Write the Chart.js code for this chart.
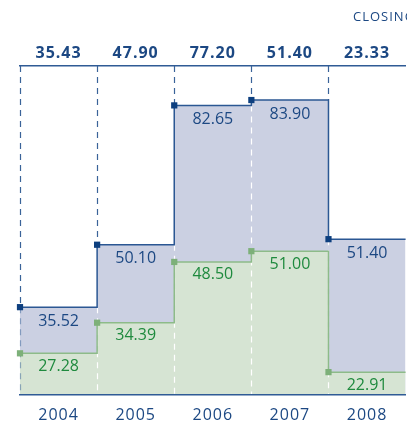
<!DOCTYPE html>
<html>
<head>
<meta charset="utf-8">
<script src="https://cdn.jsdelivr.net/npm/chart.js@4"></script>
<style>
  html, body { margin: 0; padding: 0; background: #fff; overflow: hidden; }
  canvas { display: block; }
</style>
</head>
<body>
<canvas id="priceChart" width="410" height="423"></canvas>
<script>
// years, closing price (top row), high and low of each year
const years = ["2004", "2005", "2006", "2007", "2008"];
const closing = [35.43, 47.9, 77.2, 51.4, 23.33];
const high = [35.52, 50.1, 82.65, 83.9, 51.4];
const low = [27.28, 34.39, 48.5, 51.0, 22.91];

const darkBlue = "#1c4883";
const green = "#1f8a3e";

// one step per year: the value holds from the year's left edge to the next one
function steps(values) {
  const pts = values.map((v, i) => ({ x: i, y: v }));
  pts.push({ x: values.length, y: values[values.length - 1] });
  return pts;
}
const markerRadius = years.map(() => 4.4).concat([0]);

// dashed year separators: dark blue above the steps, white inside the fills
const separators = {
  id: "separators",
  beforeDatasetsDraw(chart) {
    const { ctx, chartArea, scales } = chart;
    ctx.save();
    ctx.setLineDash([6, 5]);
    ctx.lineWidth = 1.2;
    for (let i = 0; i < years.length; i++) {
      const x = Math.round(scales.x.getPixelForValue(i)) + 0.5;
      const prev = i > 0 ? high[i - 1] : high[i];
      const level = scales.yHigh.getPixelForValue(Math.max(prev, high[i]));
      const lower = scales.yHigh.getPixelForValue(Math.min(prev, high[i]));
      ctx.strokeStyle = "#3a6399";
      ctx.beginPath();
      ctx.moveTo(x, chartArea.top);
      ctx.lineTo(x, level);
      ctx.stroke();
      ctx.strokeStyle = i === 0 ? "rgba(58,99,153,0.5)" : "#ffffff";
      ctx.beginPath();
      ctx.moveTo(x, i === 0 ? level : lower);
      ctx.lineTo(x, chartArea.bottom);
      ctx.stroke();
    }
    ctx.restore();
  },
  afterDatasetsDraw(chart) {
    const { ctx, scales } = chart;
    ctx.save();
    ctx.letterSpacing = "0px";
    ctx.font = "16px 'Open Sans'";
    ctx.textAlign = "center";
    ctx.textBaseline = "middle";
    years.forEach((y, i) => {
      const cx = scales.x.getPixelForValue(i + 0.5);
      ctx.fillStyle = darkBlue;
      ctx.fillText(high[i].toFixed(2), cx, scales.yHigh.getPixelForValue(high[i]) + 14);
      ctx.fillStyle = green;
      ctx.fillText(low[i].toFixed(2), cx, scales.yLow.getPixelForValue(low[i]) + 13);
    });
    ctx.restore();
    // axis labels are drawn after this hook (ticks.z = 1)
    ctx.letterSpacing = "1px";
  },
  afterDraw(chart) {
    const ctx = chart.ctx;
    ctx.save();
    ctx.letterSpacing = "1px";
    ctx.font = "13px 'Open Sans'";
    ctx.fillStyle = darkBlue;
    ctx.textAlign = "left";
    ctx.textBaseline = "middle";
    ctx.fillText("CLOSING PRICE", 353, 17);
    ctx.restore();
    ctx.letterSpacing = "0px";
  },
};

const chart = new Chart(document.getElementById("priceChart").getContext("2d"), {
  type: "line",
  data: {
    datasets: [
      {
        label: "Low",
        data: steps(low),
        xAxisID: "x",
        yAxisID: "yLow",
        stepped: true,
        borderColor: "#8dbb89",
        borderWidth: 1.5,
        backgroundColor: "#d6e4d3",
        fill: "start",
        pointStyle: "rect",
        pointRadius: markerRadius,
        pointBackgroundColor: "#7db079",
        pointBorderWidth: 0,
        clip: false,
      },
      {
        label: "High",
        data: steps(high),
        xAxisID: "x",
        yAxisID: "yHigh",
        stepped: true,
        borderColor: "#2b5793",
        borderWidth: 1.5,
        backgroundColor: "#cbd0e2",
        fill: "start",
        pointStyle: "rect",
        pointRadius: markerRadius,
        pointBackgroundColor: "#0d3f7f",
        pointBorderWidth: 0,
        clip: false,
      },
    ],
  },
  options: {
    responsive: false,
    animation: false,
    devicePixelRatio: 1,
    layout: { padding: { left: 20, right: 2.5, top: 36, bottom: 0 } },
    plugins: {
      legend: { display: false },
      tooltip: { enabled: false },
      filler: { drawTime: "beforeDatasetsDraw" },
    },
    scales: {
      x: { type: "linear", min: 0, max: years.length, display: false },
      yHigh: { type: "linear", position: "left", min: 15, max: 91.85, display: false },
      yLow: { type: "linear", position: "left", min: 17.6, max: 94, display: false },
      years: {
        type: "category",
        axis: "x",
        labels: years,
        position: "bottom",
        offset: true,
        grid: { display: false },
        border: { color: "#2f5b95", width: 1.5, z: 1 },
        ticks: {
          color: darkBlue,
          font: { family: "'Open Sans'", size: 16 },
          padding: 3,
          maxRotation: 0,
          autoSkip: false,
          z: 1,
        },
        afterFit: (scale) => { scale.height = 28; },
      },
      closingRow: {
        type: "category",
        axis: "x",
        labels: closing.map((v) => v.toFixed(2)),
        position: "top",
        offset: true,
        grid: { display: false },
        border: { color: "#2f5b95", width: 1.5 },
        ticks: {
          color: darkBlue,
          font: { family: "'Open Sans'", size: 16, weight: "bold" },
          padding: -5,
          maxRotation: 0,
          autoSkip: false,
          z: 1,
        },
        afterFit: (scale) => { scale.height = 30; },
      },
    },
  },
  plugins: [separators],
});
</script>
</body>
</html>
